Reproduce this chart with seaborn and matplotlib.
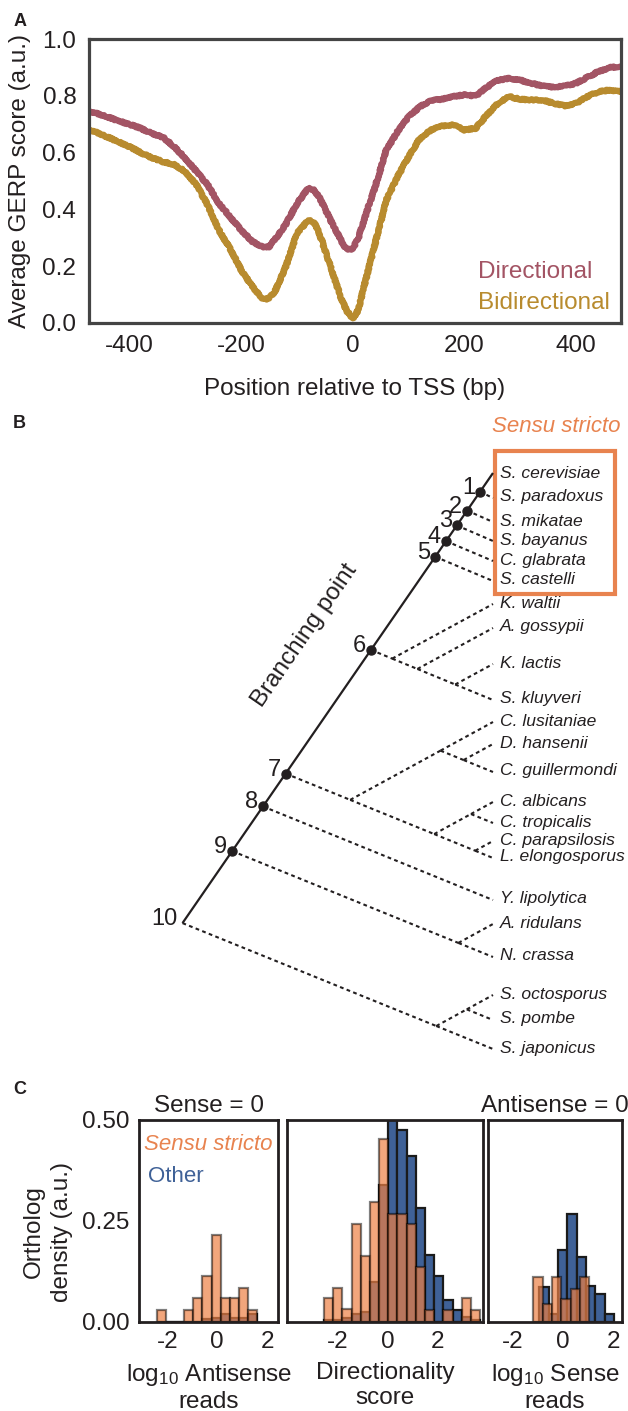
import matplotlib
matplotlib.use("Agg")
import matplotlib.pyplot as plt
from matplotlib.patches import Rectangle
import numpy as np
import pandas as pd
import seaborn as sns

# ---------------- Panel A: GERP conservation around the TSS ----------------
tss_pos = [-470, -440, -420, -400, -380, -360, -340, -320, -300, -280, -260,
           -240, -220, -200, -180, -160, -150, -140, -120, -100, -80, -70,
           -60, -40, -20, -10, 0, 10, 20, 40, 60, 80, 100, 120, 140, 160,
           180, 200, 220, 240, 260, 280, 300, 320, 340, 360, 380, 400, 420,
           440, 460, 480]
gerp_directional = [0.745, 0.727, 0.712, 0.700, 0.686, 0.668, 0.654, 0.621,
                    0.580, 0.533, 0.486, 0.421, 0.374, 0.327, 0.286, 0.266,
                    0.268, 0.292, 0.348, 0.421, 0.474, 0.468, 0.442, 0.362,
                    0.286, 0.256, 0.262, 0.300, 0.362, 0.480, 0.609, 0.674,
                    0.727, 0.762, 0.784, 0.789, 0.798, 0.804, 0.800, 0.831,
                    0.856, 0.862, 0.856, 0.845, 0.835, 0.831, 0.835, 0.845,
                    0.866, 0.886, 0.900, 0.904]
gerp_bidirectional = [0.680, 0.656, 0.638, 0.621, 0.600, 0.582, 0.568, 0.558,
                      0.533, 0.486, 0.415, 0.327, 0.262, 0.186, 0.127, 0.082,
                      0.086, 0.109, 0.198, 0.315, 0.362, 0.356, 0.315, 0.198,
                      0.080, 0.039, 0.015, 0.045, 0.127, 0.280, 0.433, 0.515,
                      0.586, 0.650, 0.680, 0.694, 0.698, 0.680, 0.686, 0.733,
                      0.774, 0.798, 0.788, 0.786, 0.786, 0.774, 0.765, 0.774,
                      0.798, 0.815, 0.821, 0.815]
a_xticks = [-400, -200, 0, 200, 400]
a_yticks = [0.0, 0.2, 0.4, 0.6, 0.8, 1.0]

# ---------------- Panel B: yeast phylogeny ----------------
top_species = "S. cerevisiae"
# clades hanging off the backbone, branching points 1..10 (upper, lower)
branch_clades = [
    "S. paradoxus",
    "S. mikatae",
    "S. bayanus",
    "C. glabrata",
    "S. castelli",
    ("K. waltii", ("A. gossypii", ("K. lactis", "S. kluyveri"))),
    (("C. lusitaniae", ("D. hansenii", "C. guillermondi")),
     (("C. albicans", "C. tropicalis"), ("C. parapsilosis", "L. elongosporus"))),
    "Y. lipolytica",
    ("A. ridulans", "N. crassa"),
    (("S. octosporus", "S. pombe"), "S. japonicus"),
]
sensu_stricto = ["S. cerevisiae", "S. paradoxus", "S. mikatae", "S. bayanus",
                 "C. glabrata", "S. castelli"]
# vertical placement of each species row (figure pixels)
leaf_y = {
    "S. cerevisiae": 473, "S. paradoxus": 497, "S. mikatae": 521,
    "S. bayanus": 540, "C. glabrata": 560, "S. castelli": 580,
    "K. waltii": 603, "A. gossypii": 627, "K. lactis": 663,
    "S. kluyveri": 699, "C. lusitaniae": 721, "D. hansenii": 743,
    "C. guillermondi": 771, "C. albicans": 801, "C. tropicalis": 822,
    "C. parapsilosis": 840, "L. elongosporus": 857, "Y. lipolytica": 899,
    "A. ridulans": 923, "N. crassa": 956, "S. octosporus": 994,
    "S. pombe": 1019, "S. japonicus": 1048,
}

# ---------------- Panel C: ortholog histograms ----------------
edges_sense0 = [-2.40, -2.04, -1.68, -1.32, -0.96, -0.60, -0.23, 0.13, 0.49,
                0.85, 1.21, 1.57]
sensu_sense0 = [0.030, 0.0, 0.0, 0.030, 0.059, 0.114, 0.216, 0.059, 0.059,
                0.084, 0.030]
other_sense0 = [0.0, 0.0, 0.0, 0.0, 0.0, 0.006, 0.010, 0.018, 0.008, 0.010,
                0.018]

edges_dir = [-2.55, -2.18, -1.82, -1.45, -1.08, -0.72, -0.35, 0.02, 0.38, 0.75,
             1.12, 1.49, 1.85, 2.22, 2.59, 2.95, 3.32, 3.69]
sensu_dir = [0.058, 0.084, 0.032, 0.242, 0.164, 0.296, 0.454, 0.268, 0.268,
             0.242, 0.135, 0.029, 0.0, 0.029, 0.0, 0.058, 0.030]
other_dir = [0.004, 0.004, 0.008, 0.020, 0.025, 0.099, 0.340, 0.500, 0.475,
             0.411, 0.281, 0.165, 0.113, 0.053, 0.030, 0.012, 0.004]

edges_anti0_sensu = [-1.19, -0.82, -0.44, -0.07, 0.30, 0.67, 1.05]
sensu_anti0 = [0.111, 0.045, 0.111, 0.057, 0.082, 0.111]
edges_anti0_other = [-0.95, -0.58, -0.20, 0.17, 0.54, 0.92, 1.29, 1.66, 2.04]
other_anti0 = [0.086, 0.020, 0.177, 0.268, 0.161, 0.089, 0.068, 0.018]

c_ticks = [-2, 0, 2]
c_yticks = [0.0, 0.25, 0.5]

# ---------------- styling ----------------
sns.set_theme(style="white")
plt.rcParams["font.family"] = ["Liberation Sans", "DejaVu Sans"]
plt.rcParams["mathtext.default"] = "regular"
plt.rcParams["axes.unicode_minus"] = False

C_DIR = "#A35464"
C_BI = "#B88B2E"
C_ORANGE = "#E8834F"
C_BLUE = "#3F6197"
FS = 17.5

W, H = 628, 1411
fig = plt.figure(figsize=(W / 100, H / 100), dpi=100)


def px_axes(left, top, right, bottom):
    return fig.add_axes([left / W, 1 - bottom / H, (right - left) / W,
                         (bottom - top) / H])


# ---------------- tree (pixel-space canvas) ----------------
axB = fig.add_axes([0, 0, 1, 1])
axB.set_xlim(0, W)
axB.set_ylim(H, 0)
axB.axis("off")

X_END = 493
K_BACKBONE = 0.54
K_CLADE = 1.05
SLOPE = np.tan(np.radians(55.4))
dash_kw = dict(color="#231F20", lw=1.5, ls=(0, (1.8, 1.6)),
               solid_capstyle="butt", dash_capstyle="butt")


def clade_leaves(c):
    return [c] if isinstance(c, str) else clade_leaves(c[0]) + clade_leaves(c[1])


def draw_clade(ax, clade, start, side):
    if isinstance(clade, str):
        ax.plot([start[0], X_END], [start[1], leaf_y[clade] + 1], **dash_kw)
        return
    ys = [leaf_y[s] for s in clade_leaves(clade)]
    ty = (max(ys) if side == "bottom" else min(ys)) + 1
    nx = X_END - K_CLADE * (max(ys) - min(ys))
    ny = start[1] + (ty - start[1]) * (nx - start[0]) / (X_END - start[0])
    ax.plot([start[0], nx], [start[1], ny], **dash_kw)
    upper, lower = clade
    draw_clade(ax, upper, (nx, ny), "top")
    draw_clade(ax, lower, (nx, ny), "bottom")


y_top = leaf_y[top_species]
nodes = []
for clade in branch_clades:
    bottom = max(leaf_y[s] for s in clade_leaves(clade))
    nx = X_END - K_BACKBONE * (bottom - y_top)
    ny = y_top + (X_END - nx) * SLOPE
    nodes.append((nx, ny))

root = nodes[-1]
axB.plot([root[0], X_END], [root[1], y_top], color="#231F20", lw=1.6,
         solid_capstyle="butt")
for i, (clade, (nx, ny)) in enumerate(zip(branch_clades, nodes), start=1):
    draw_clade(axB, clade, (nx, ny), "bottom")
    if i < len(branch_clades):
        axB.plot(nx, ny, "o", color="#231F20", ms=6.5, zorder=5)
    axB.text(nx - 5, ny + 2, str(i), ha="right", va="baseline", fontsize=17,
             color="#231F20")

for name, y in leaf_y.items():
    axB.text(500, y, name, style="italic", fontsize=12.6, va="center",
             ha="left", color="#231F20")

axB.text(305, 635, "Branching point", rotation=55.4, ha="center",
         va="center", fontsize=FS, color="#231F20", rotation_mode="anchor")
ss_y = [leaf_y[s] for s in sensu_stricto]
axB.add_patch(Rectangle((495, min(ss_y) - 22), 120, max(ss_y) - min(ss_y) + 36,
                        fill=False, edgecolor=C_ORANGE, lw=3))
axB.text(556, 427, "Sensu stricto", style="italic", color=C_ORANGE,
         fontsize=16, ha="center", va="center")

# ---------------- Panel A ----------------
axA = px_axes(88.8, 39.3, 620.8, 322.7)
dfA = pd.DataFrame({"pos": tss_pos, "Directional": gerp_directional,
                    "Bidirectional": gerp_bidirectional})
dfA = dfA.melt(id_vars="pos", var_name="group", value_name="gerp")
sns.lineplot(data=dfA, x="pos", y="gerp", hue="group",
             palette={"Directional": C_DIR, "Bidirectional": C_BI},
             linewidth=4.4, legend=False, ax=axA)
for ln in axA.lines:
    ln.set_sketch_params(scale=0.8, length=3, randomness=3)
axA.set_xlim(-473, 480)
axA.set_ylim(0, 1)
axA.set_xticks(a_xticks)
axA.set_xticklabels([str(v) for v in a_xticks])
axA.set_yticks(a_yticks)
axA.set_yticklabels([f"{v:.1f}" for v in a_yticks])
axA.tick_params(length=0, labelsize=FS, pad=9, colors="#231F20")
for s in axA.spines.values():
    s.set_color("#444444")
    s.set_linewidth(2.3)
axA.set_xlabel("Position relative to TSS (bp)", fontsize=FS, color="#231F20")
axA.set_ylabel("Average GERP score (a.u.)", fontsize=FS, color="#231F20")
axA.xaxis.set_label_coords(0.5, -0.195)
axA.yaxis.set_label_coords(-0.108, 0.5)
axA.text(478, 272, "Directional", color=C_DIR, fontsize=FS, va="center",
         ha="left", transform=axB.transData)
axA.text(478, 303, "Bidirectional", color=C_BI, fontsize=FS, va="center",
         ha="left", transform=axB.transData)

# ---------------- Panel C ----------------
ORANGE_FACE = (0.93, 0.50, 0.27, 0.70)
ORANGE_EDGE = (0.0, 0.0, 0.0, 0.5)
BLUE_FACE = C_BLUE
BLUE_EDGE = "#1A1A1A"


def hist(ax, edges, heights, face, edge):
    centers = [(a + b) / 2 for a, b in zip(edges[:-1], edges[1:])]
    sns.histplot(x=centers, weights=heights, bins=edges, ax=ax,
                 facecolor=face, edgecolor=edge, linewidth=1.6)


panels = [
    (px_axes(139.3, 1120, 278.3, 1321.7), (-3.12, 2.44),
     (edges_sense0, other_sense0), (edges_sense0, sensu_sense0),
     "log$_{10}$ Antisense\nreads", "Sense = 0"),
    (px_axes(286.7, 1120, 483, 1321.7), (-4.05, 3.8),
     (edges_dir, other_dir), (edges_dir, sensu_dir),
     "Directionality\nscore", None),
    (px_axes(488, 1120, 622, 1321.7), (-3.0, 2.36),
     (edges_anti0_other, other_anti0), (edges_anti0_sensu, sensu_anti0),
     "log$_{10}$ Sense\nreads", "Antisense = 0"),
]
for k, (ax, xlim, oth, sen, xlabel, title) in enumerate(panels):
    hist(ax, oth[0], oth[1], BLUE_FACE, BLUE_EDGE)
    hist(ax, sen[0], sen[1], ORANGE_FACE, ORANGE_EDGE)
    ax.set_xlim(*xlim)
    ax.set_ylim(0, 0.5)
    ax.set_xticks(c_ticks)
    ax.set_xticklabels([str(v) for v in c_ticks])
    ax.set_yticks(c_yticks)
    if k == 0:
        ax.set_yticklabels(["0.00", "0.25", "0.50"])
        ax.set_ylabel("Ortholog\ndensity (a.u.)", fontsize=FS,
                      linespacing=1.35, color="#231F20")
        ax.yaxis.set_label_coords(-0.477, 0.445)
    else:
        ax.set_yticklabels([])
        ax.set_ylabel("")
    ax.tick_params(length=0, labelsize=FS, pad=7, colors="#231F20")
    ax.set_xlabel(xlabel, fontsize=FS, linespacing=1.2, color="#231F20")
    ax.xaxis.set_label_coords(0.5, -0.2)
    if title:
        ax.set_title(title, fontsize=FS, pad=6, color="#231F20")
    for s in ax.spines.values():
        s.set_color("#231F20")
        s.set_linewidth(2.0)

fig.text(144 / W, 1 - 1145 / H, "Sensu stricto", style="italic",
         color=C_ORANGE, fontsize=16, va="center", ha="left")
fig.text(148 / W, 1 - 1177 / H, "Other", color=C_BLUE, fontsize=16,
         va="center", ha="left")

# panel letters
for letter, (lx, ly) in {"A": (20, 22), "B": (19, 424), "C": (20, 1090)}.items():
    fig.text(lx / W, 1 - ly / H, letter, fontsize=13, fontweight="bold",
             ha="center", va="center", color="#231F20")

fig.savefig("out.png", dpi=100)
